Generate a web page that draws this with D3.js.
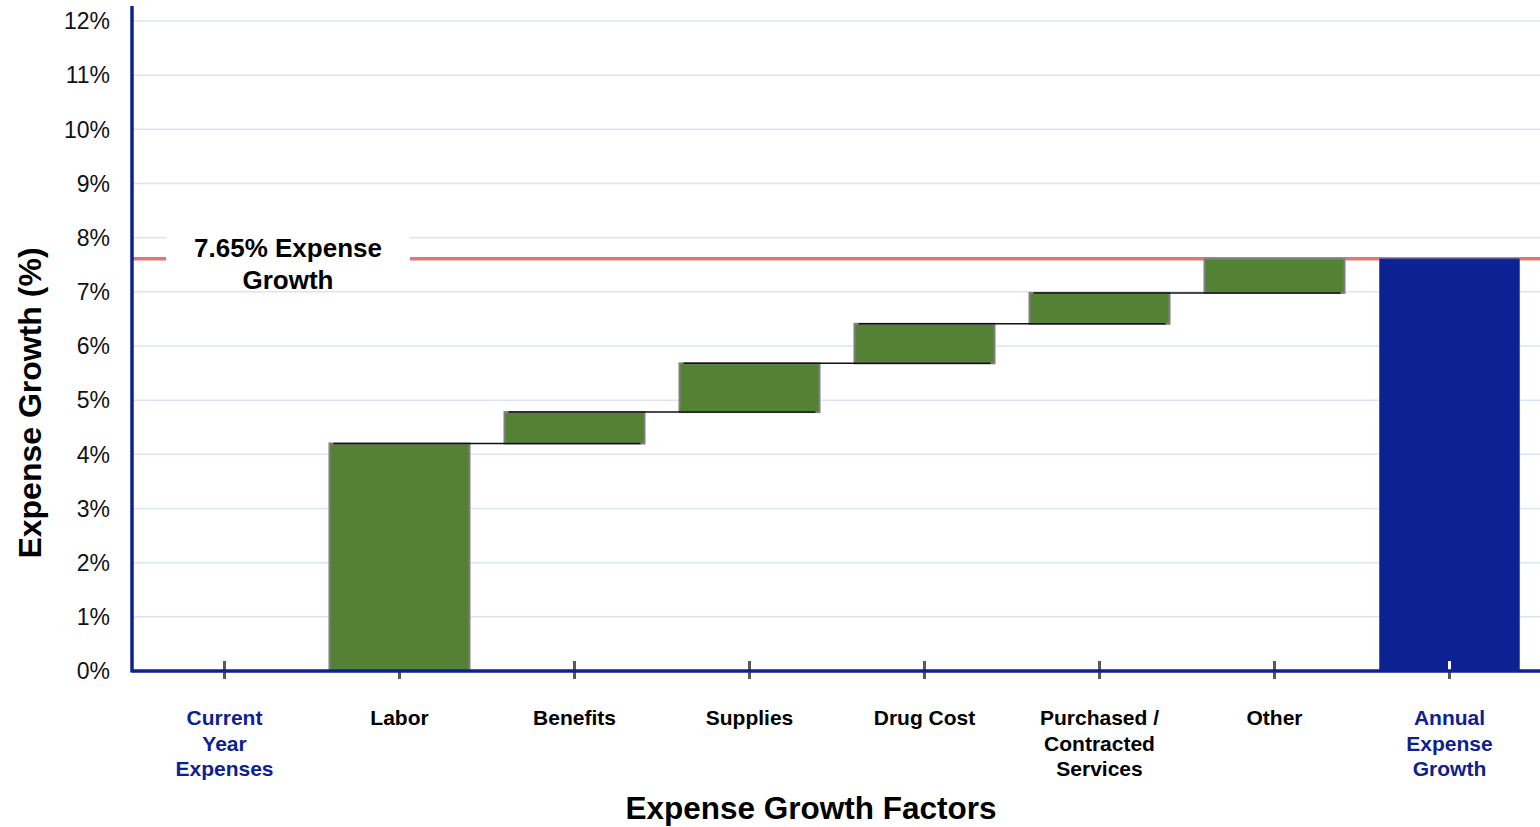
<!DOCTYPE html>
<html>
<head>
    <title>Expense Growth Waterfall</title>
    <script src="https://d3js.org/d3.v7.min.js"></script>
    <style>
        body { margin: 0; background: #fff; }
        text { font-family: "Liberation Sans", Arial, sans-serif; }
    </style>
</head>
<body>
    <div id="chart"></div>
    <script>
        // data
        const categories = ["Current Year Expenses", "Labor", "Benefits", "Supplies", "Drug Cost", "Purchased / Contracted Services", "Other", "Annual Expense Growth"];
        const labelLines = [["Current", "Year", "Expenses"], ["Labor"], ["Benefits"], ["Supplies"], ["Drug Cost"], ["Purchased /", "Contracted", "Services"], ["Other"], ["Annual", "Expense", "Growth"]];
        const increments = [0, 4.20, 0.58, 0.90, 0.73, 0.57, 0.63];
        const totalGrowth = 7.61;
        const targetLine = 7.61;
        const targetLabel = ["7.65% Expense", "Growth"];
        const yTicks = [0, 1, 2, 3, 4, 5, 6, 7, 8, 9, 10, 11, 12];

        const W = 1540, H = 827;
        const blue = "#0d2292", green = "#548235";

        const svg = d3.select("#chart").append("svg")
            .attr("width", W).attr("height", H);

        const x = d3.scaleBand().domain(categories).range([137, 1537])
            .paddingInner(0.2).paddingOuter(0.1);
        const y = d3.scaleLinear().domain([0, 12]).range([671, 21]);
        const axisX = 132;

        // waterfall steps
        let run = 0;
        const steps = increments.map((v, i) => {
            const s = {cat: categories[i], start: run, end: run + v};
            run += v;
            return s;
        });

        // gridlines
        svg.append("g").selectAll("line").data(yTicks.filter(d => d > 0)).enter().append("line")
            .attr("x1", axisX).attr("x2", W)
            .attr("y1", d => y(d)).attr("y2", d => y(d))
            .attr("stroke", "#dde4f4").attr("stroke-width", 1.5);

        // target line
        svg.append("line")
            .attr("x1", axisX).attr("x2", W)
            .attr("y1", y(targetLine)).attr("y2", y(targetLine))
            .attr("stroke", "#e07676").attr("stroke-width", 3.5);

        // label box
        svg.append("rect").attr("x", 166).attr("y", 232).attr("width", 244).attr("height", 57)
            .attr("fill", "#fff");
        svg.append("text").attr("x", 288).attr("y", 257)
            .attr("text-anchor", "middle").style("font-size", "26px").style("font-weight", "bold")
            .selectAll("tspan").data(targetLabel).enter().append("tspan")
            .attr("x", 288).attr("dy", (d, i) => i ? 32 : 0).text(d => d);

        // ticks (under bars)
        svg.append("g").selectAll("line").data(categories).enter().append("line")
            .attr("x1", d => x(d) + x.bandwidth() / 2).attr("x2", d => x(d) + x.bandwidth() / 2)
            .attr("y1", 661).attr("y2", 679)
            .attr("stroke", "#595959").attr("stroke-width", 3);

        // floating bars
        svg.append("g").selectAll("rect").data(steps.filter(s => s.end > s.start)).enter().append("rect")
            .attr("x", d => x(d.cat)).attr("width", x.bandwidth())
            .attr("y", d => y(d.end)).attr("height", d => y(d.start) - y(d.end))
            .attr("fill", green).attr("stroke", "#7f7f7f").attr("stroke-width", 2);

        // total bar
        const last = categories[categories.length - 1];
        svg.append("rect")
            .attr("x", x(last)).attr("width", x.bandwidth())
            .attr("y", y(totalGrowth)).attr("height", y(0) - y(totalGrowth))
            .attr("fill", blue).attr("stroke", "#3a4fb0").attr("stroke-width", 0.8);
        svg.append("line")
            .attr("x1", x(last) + x.bandwidth() / 2).attr("x2", x(last) + x.bandwidth() / 2)
            .attr("y1", 661).attr("y2", 670)
            .attr("stroke", "#fff").attr("stroke-width", 3);

        // connectors
        const conn = steps.slice(1, steps.length - 1);
        svg.append("g").selectAll("line").data(conn).enter().append("line")
            .attr("x1", d => x(d.cat) + 4)
            .attr("x2", (d, i) => x(categories[categories.indexOf(d.cat) + 1]) + x.bandwidth() - 4)
            .attr("y1", d => y(d.end)).attr("y2", d => y(d.end))
            .attr("stroke", "#111").attr("stroke-width", 1.5);

        // axes lines
        svg.append("line").attr("x1", axisX).attr("x2", W).attr("y1", y(0)).attr("y2", y(0))
            .attr("stroke", blue).attr("stroke-width", 3.5);
        svg.append("line").attr("x1", axisX).attr("x2", axisX).attr("y1", 6).attr("y2", y(0) + 1.5)
            .attr("stroke", blue).attr("stroke-width", 3.5);

        // y tick labels
        svg.append("g").selectAll("text").data(yTicks).enter().append("text")
            .attr("x", 110).attr("y", d => y(d)).attr("dy", "0.36em")
            .attr("text-anchor", "end").style("font-size", "23px").attr("fill", "#111")
            .text(d => d + "%");

        // x category labels
        const xl = svg.append("g").selectAll("text").data(categories).enter().append("text")
            .attr("text-anchor", "middle").style("font-size", "21px").style("font-weight", "bold")
            .attr("fill", (d, i) => (i === 0 || i === categories.length - 1) ? blue : "#000")
            .attr("y", 725);
        xl.selectAll("tspan").data((d, i) => labelLines[i].map(t => ({t, c: d}))).enter().append("tspan")
            .attr("x", d => x(d.c) + x.bandwidth() / 2)
            .attr("dy", (d, i) => i ? 25.5 : 0).text(d => d.t);

        // axis titles
        svg.append("text").attr("x", 811).attr("y", 819).attr("text-anchor", "middle")
            .style("font-size", "31.5px").style("font-weight", "bold").text("Expense Growth Factors");
        svg.append("text").attr("transform", "translate(41,403) rotate(-90)").attr("text-anchor", "middle")
            .style("font-size", "32px").style("font-weight", "bold").text("Expense Growth (%)");
    </script>
</body>
</html>
